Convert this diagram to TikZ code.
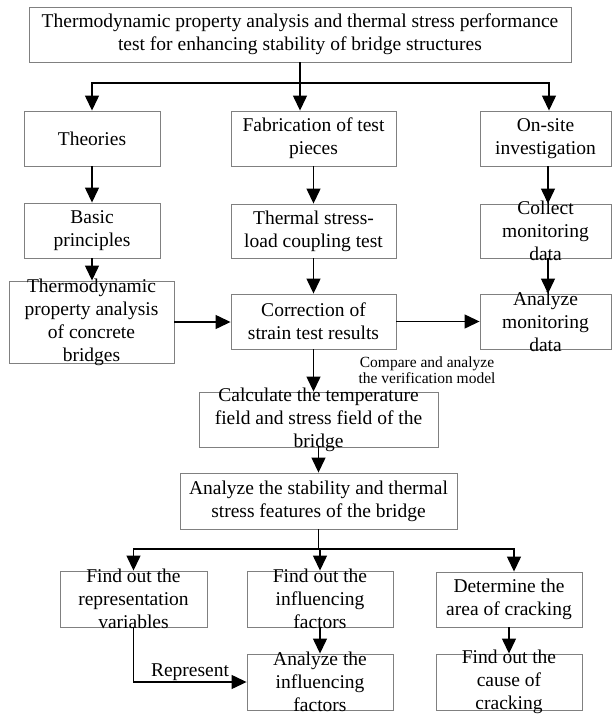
\documentclass[tikz,border=0pt]{standalone}
\usepackage{fontspec}
\setmainfont{Liberation Serif}
\usetikzlibrary{arrows.meta,calc}
\definecolor{boxgray}{RGB}{128,128,128}
\tikzset{
  box/.style={draw=boxgray, line width=0.9pt, inner sep=0pt, rectangle},
  txt/.style={font=\fontsize{19.5}{23}\selectfont, align=center, inner sep=0pt},
  lbl/.style={font=\fontsize{15.5}{16.5}\selectfont, align=center, inner sep=0pt},
  arr/.style={-{Triangle[length=15pt,width=14pt]}, line width=1.3pt},
  ln/.style={line width=1.3pt},
}
\newcommand\bx[6]{%
  \node[box, minimum width=#4pt, minimum height=#5pt] (#1) at (#2,#3) {};
  \node[txt] (#1t) at (#1.center) {#6};}
\begin{document}
\begin{tikzpicture}[x=1pt,y=-1pt]
\useasboundingbox (0,0) rectangle (612,715);
\bx{top}{300}{34.5}{542}{55}{Thermodynamic property analysis and thermal stress performance\\test for enhancing stability of bridge structures}
\bx{theo}{92}{138.5}{136}{55}{Theories}
\bx{fab}{313.5}{138.5}{165}{55}{Fabrication of test\\pieces}
\bx{onsite}{545.5}{138.5}{131}{55}{On-site\\investigation}
\bx{basic}{92}{230.5}{136}{55}{Basic\\principles}
\bx{tsl}{313.5}{231}{165}{54}{Thermal stress-\\load coupling test}
\bx{coll}{545.5}{231}{131}{54}{Collect\\monitoring\\data}
\bx{thermo}{91.5}{322}{165}{82}{Thermodynamic\\property analysis\\of concrete\\bridges}
\bx{corr}{313.5}{321.5}{165}{55}{Correction of\\strain test results}
\bx{anmon}{545.5}{321.5}{131}{55}{Analyze\\monitoring\\data}
\bx{calc}{318.5}{419.5}{239}{55}{Calculate the temperature\\field and stress field of the\\bridge}
\bx{stab}{318.5}{501}{277}{56}{Analyze the stability and thermal\\stress features of the bridge}
\bx{repr}{133.5}{599}{147}{56}{Find out the\\representation\\variables}
\bx{finf}{320}{599}{146}{56}{Find out the\\influencing\\factors}
\bx{det}{509}{599.5}{146}{55}{Determine the\\area of cracking}
\bx{ainf}{320}{682}{146}{56}{Analyze the\\influencing\\factors}
\bx{cause}{509}{682}{146}{56}{Find out the\\cause of\\cracking}
% top fan-out
\coordinate (j1) at (300,83);
\coordinate (onin) at ($(onsite.north)+(3.5,0)$);
\draw[ln] (top.south) -- (j1);
\draw[arr] (j1) -| (theo.north);
\draw[arr] (j1) -- (j1 |- fab.north);
\draw[arr] (j1) -| (onin);
% columns
\draw[arr] (theo.south) -- (basic.north);
\draw[arr] (fab.south) -- (tsl.north);
\draw[arr] ($(onsite.south)+(2.5,0)$) -- ($(coll.north)+(2.5,0)$);
\draw[arr] (basic.south) -- (basic.south |- thermo.north);
\draw[arr] (tsl.south) -- (corr.north);
\draw[arr] ($(coll.south)+(2.5,0)$) -- ($(anmon.north)+(2.5,0)$);
\draw[arr] (thermo.east) -- (thermo.east -| corr.west);
\draw[arr] (corr.east) -- (anmon.west);
\draw[arr] (corr.south) -- (corr.south |- calc.north);
\node[lbl] (cmp) at (427,370) {Compare and analyze\\the verification model};
\draw[arr] (calc.south) -- (calc.south |- stab.north);
% bottom fan-out
\coordinate (j2) at (318.5,549);
\coordinate (detin) at ($(det.north)+(5,0)$);
\draw[ln] (stab.south) -- (j2);
\draw[arr] (j2) -| (repr.north);
\draw[arr] (j2) -| (finf.north);
\draw[arr] (j2) -| (detin);
\draw[arr] (finf.south) -- (ainf.north);
\draw[arr] (det.south) -- (cause.north);
\draw[arr] (repr.south) |- (ainf.west);
\node[txt] (rep) at (190,672) {Represent};
\end{tikzpicture}
\end{document}
